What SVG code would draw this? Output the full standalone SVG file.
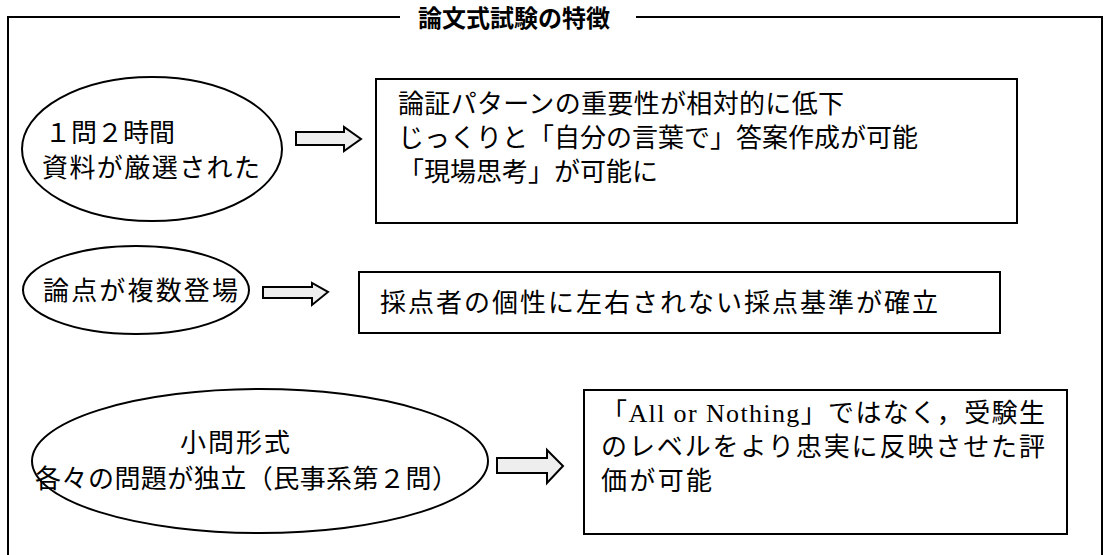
<svg xmlns="http://www.w3.org/2000/svg" width="1109" height="555" viewBox="0 0 1109 555">
<style>
.bg{fill:#fff}
.frame{fill:none;stroke:#000;stroke-width:2}
.node{fill:#fff;stroke:#000;stroke-width:2}
.arrow{fill:#eeeeee;stroke:#000;stroke-width:2;stroke-linejoin:miter}
.t{font-family:"Liberation Serif","Noto Sans CJK JP",serif;font-size:26px;fill:#000}
.title{font-family:"Noto Sans CJK JP",sans-serif;font-size:24px;font-weight:bold;fill:#000}
</style>
<rect class="bg" x="0" y="0" width="1109" height="555"/>
<g id="frame">
<path class="frame" d="M400 17 H8 V560 M636 17 H1102 V560"/>
<text class="title" x="418" y="27">論文式試験の特徴</text>
</g>
<g id="n1">
<ellipse class="node" cx="152" cy="149" rx="130" ry="72"/>
<text class="t" x="45" y="142" textLength="130" lengthAdjust="spacing">１問２時間</text>
<text class="t" x="42" y="177" textLength="218" lengthAdjust="spacing">資料が厳選された</text>
</g>
<g id="b1">
<rect class="node" x="376" y="79" width="641" height="144"/>
<text class="t" x="398" y="113" textLength="446" lengthAdjust="spacing">論証パターンの重要性が相対的に低下</text>
<text class="t" x="398" y="147" textLength="520" lengthAdjust="spacing">じっくりと「自分の言葉で」答案作成が可能</text>
<text class="t" x="398" y="181">「現場思考」が可能に</text>
</g>
<g id="n2">
<ellipse class="node" cx="136" cy="290" rx="113" ry="44"/>
<text class="t" x="43" y="300" textLength="195" lengthAdjust="spacing">論点が複数登場</text>
</g>
<g id="b2">
<rect class="node" x="359" y="272" width="641" height="61"/>
<text class="t" x="380" y="312" textLength="558" lengthAdjust="spacing">採点者の個性に左右されない採点基準が確立</text>
</g>
<g id="n3">
<ellipse class="node" cx="260" cy="461" rx="228" ry="72"/>
<text class="t" x="235" y="452" text-anchor="middle" textLength="110" lengthAdjust="spacing">小問形式</text>
<text class="t" x="35" y="488" textLength="423" lengthAdjust="spacing">各々の問題が独立（民事系第２問）</text>
</g>
<g id="b3">
<rect class="node" x="584" y="390" width="483" height="144"/>
<text class="t" x="601" y="422" textLength="444" lengthAdjust="spacing">「All or Nothing」ではなく，受験生</text>
<text class="t" x="601" y="456" textLength="444" lengthAdjust="spacing">のレベルをより忠実に反映させた評</text>
<text class="t" x="601" y="490" textLength="111" lengthAdjust="spacing">価が可能</text>
</g>
<g id="connectors">
<polygon class="arrow" points="296,132 344,132 344,127 361,139 344,151 344,145 296,145"/>
<polygon class="arrow" points="263,287 312,287 312,283 328,292 312,305 312,298 263,298"/>
<polygon class="arrow" points="497,458 547,458 547,450 563,466 547,483 547,473 497,473"/>
</g>
</svg>
